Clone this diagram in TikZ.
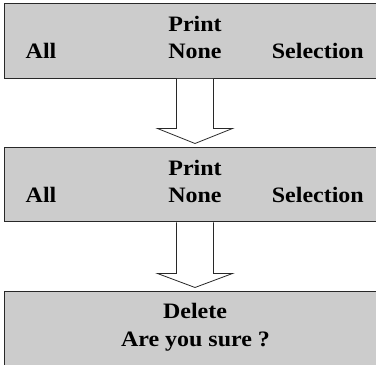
\documentclass[tikz,border=0pt]{standalone}
\usepackage{fontspec}
\setmainfont{Liberation Serif}[FakeStretch=1.09]
\usetikzlibrary{calc}
\definecolor{boxgray}{RGB}{204,204,204}
\definecolor{edge}{RGB}{40,40,40}
\begin{document}
\begin{tikzpicture}[x=1pt,y=1pt,
  box/.style={draw=edge, line width=1pt, fill=boxgray, minimum width=380pt, inner sep=0pt},
  lbl/.style={font=\fontsize{22}{27}\selectfont\bfseries, inner sep=0pt},
  arr/.style={draw=edge, line width=0.8pt, fill=white}]
\useasboundingbox (0,0) rectangle (376,365);
\clip (0,0) rectangle (376,365);
% boxes
\node[box, minimum height=74.3pt] (b1) at (195,323.85) {};
\node[box, minimum height=74pt] (b2) at (195,180) {};
\node[box, minimum height=80pt] (b3) at (195,33) {};
% texts box 1
\node[lbl, anchor=base] (p1) at (195,333.5) {Print};
\node[lbl, anchor=base] (n1) at (195,306.5) {None};
\node[lbl, anchor=base west] (a1) at (25.5,306.5) {All};
\node[lbl, anchor=base east] (s1) at (364,306.5) {Selection};
% texts box 2
\node[lbl, anchor=base] (p2) at (195,189.5) {Print};
\node[lbl, anchor=base] (n2) at (195,162.5) {None};
\node[lbl, anchor=base west] (a2) at (25.5,162.5) {All};
\node[lbl, anchor=base east] (s2) at (364,162.5) {Selection};
% texts box 3
\node[lbl, anchor=base] (d3) at (195,46.7) {Delete};
\node[lbl, anchor=base] (q3) at (195.5,18.5) {Are you sure ?};
% arrows
\path (b1.south) ++(0,-49.7) coordinate (sh1);
\draw[arr] ($(b1.south)+(-18.5,0)$) |- ($(sh1)+(-37.5,0)$) -- ($(b2.north)+(0,4)$) -- ($(sh1)+(37.5,0)$) -| ($(b1.south)+(18.5,0)$);
\path (b2.south) ++(0,-51) coordinate (sh2);
\draw[arr] ($(b2.south)+(-18.5,0)$) |- ($(sh2)+(-37.5,0)$) -- ($(b3.north)+(0,4)$) -- ($(sh2)+(37.5,0)$) -| ($(b2.south)+(18.5,0)$);
\end{tikzpicture}
\end{document}
